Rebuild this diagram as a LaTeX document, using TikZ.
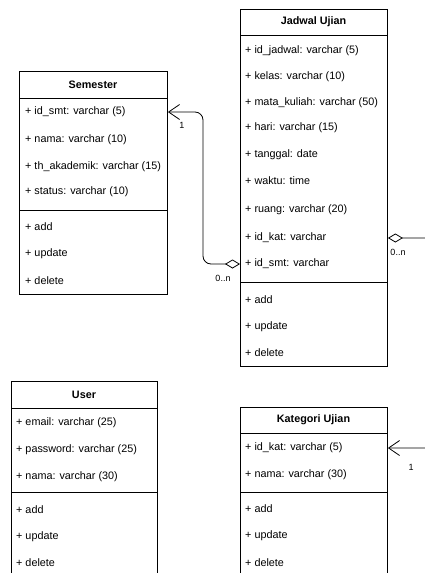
\documentclass[tikz,border=0pt]{standalone}
\usepackage{fontspec}
\setmainfont{Liberation Sans}
\usetikzlibrary{arrows.meta}

\tikzset{
  kelas/.style={draw, line width=0.9pt, anchor=north west, inner sep=0pt},
  garis/.style={line width=0.9pt},
  judul/.style={inner sep=0pt, font=\fontsize{10.8}{13}\selectfont\bfseries},
  isi/.style={anchor=west, inner sep=0pt, font=\fontsize{10.8}{13}\selectfont},
  kardinal/.style={inner sep=0pt, font=\fontsize{9}{10}\selectfont},
  relasi/.style={line width=0.8pt, rounded corners=8pt,
    {Straight Barb[length=11pt,width=15pt]}-{Diamond[open,length=15pt,width=9pt]}}
}

\begin{document}
\begin{tikzpicture}[x=1pt,y=-1pt]
\useasboundingbox (0,0) rectangle (425,573);
\clip (0,0) rectangle (425,573);

% Semester
\node[kelas, minimum width=148pt, minimum height=223pt] (semester) at (19,71) {};
\draw[garis] (19,98) -- (167,98);
\draw[garis] (19,210) -- (167,210);
\node[judul] (sem0) at (93,84.5) {Semester};
\node[isi] (sem1) at (25,112) {+ id\_smt: varchar (5)};
\node[isi] (sem2) at (25,140) {+ nama: varchar (10)};
\node[isi] (sem3) at (25,166.5) {+ th\_akademik: varchar (15)};
\node[isi] (sem4) at (25,192) {+ status: varchar (10)};
\node[isi] (sem5) at (25,227) {+ add};
\node[isi] (sem6) at (25,254) {+ update};
\node[isi] (sem7) at (25,281) {+ delete};

% Jadwal Ujian
\node[kelas, minimum width=147pt, minimum height=357pt] (jadwal) at (240,9) {};
\draw[garis] (240,35) -- (387,35);
\draw[garis] (240,282) -- (387,282);
\node[judul] (jad0) at (313.5,22) {Jadwal Ujian};
\node[isi] (jad1) at (245,51) {+ id\_jadwal: varchar (5)};
\node[isi] (jad2) at (245,77) {+ kelas: varchar (10)};
\node[isi] (jad3) at (245,103) {+ mata\_kuliah: varchar (50)};
\node[isi] (jad4) at (245,128) {+ hari: varchar (15)};
\node[isi] (jad5) at (245,155) {+ tanggal: date};
\node[isi] (jad6) at (245,181) {+ waktu: time};
\node[isi] (jad7) at (245,210) {+ ruang: varchar (20)};
\node[isi] (jad8) at (245,238) {+ id\_kat: varchar};
\node[isi] (jad9) at (245,264) {+ id\_smt: varchar};
\node[isi] (jad10) at (245,300) {+ add};
\node[isi] (jad11) at (245,327) {+ update};
\node[isi] (jad12) at (245,353) {+ delete};

% User
\node[kelas, minimum width=146pt, minimum height=215pt] (user) at (11,381) {};
\draw[garis] (11,408) -- (157,408);
\draw[garis] (11,492) -- (157,492);
\node[judul] (usr0) at (84,394.5) {User};
\node[isi] (usr1) at (16,423) {+ email: varchar (25)};
\node[isi] (usr2) at (16,450) {+ password: varchar (25)};
\node[isi] (usr3) at (16,477) {+ nama: varchar (30)};
\node[isi] (usr4) at (16,510) {+ add};
\node[isi] (usr5) at (16,537) {+ update};
\node[isi] (usr6) at (16,563) {+ delete};

% Kategori Ujian
\node[kelas, minimum width=147pt, minimum height=190pt] (kategori) at (240,407) {};
\draw[garis] (240,433) -- (387,433);
\draw[garis] (240,492) -- (387,492);
\node[judul] (kat0) at (313.5,420) {Kategori Ujian};
\node[isi] (kat1) at (245,448) {+ id\_kat: varchar (5)};
\node[isi] (kat2) at (245,475) {+ nama: varchar (30)};
\node[isi] (kat3) at (245,509) {+ add};
\node[isi] (kat4) at (245,536) {+ update};
\node[isi] (kat5) at (245,563) {+ delete};

% relasi
\draw[relasi] (semester.east |- sem1) -- (203,112) -- (203,264) -- (jadwal.west |- jad9);
\draw[relasi] (kategori.east |- kat1) -- (440,448) -- (440,238) -- (jadwal.east |- jad8);
\node[kardinal] (k1) at (182,125) {1};
\node[kardinal] (k2) at (223,278) {0..n};
\node[kardinal] (k3) at (398,252) {0..n};
\node[kardinal] (k4) at (411,467) {1};
\end{tikzpicture}
\end{document}
